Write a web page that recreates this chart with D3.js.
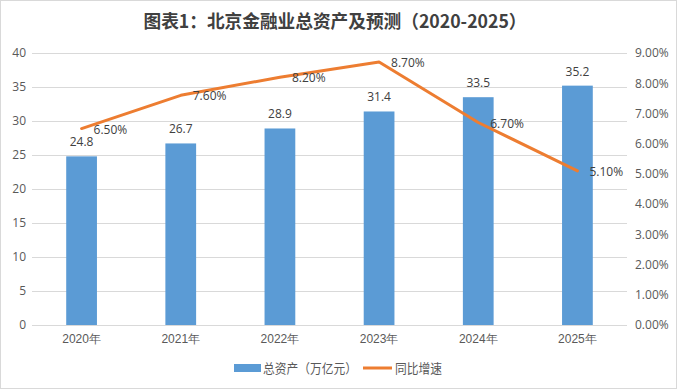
<!DOCTYPE html>
<html>
<head>
<meta charset="utf-8">
<script src="https://cdn.jsdelivr.net/npm/d3@7"></script>
<style>
  body { margin: 0; background: #fff; }
  svg { font-family: "Microsoft YaHei", "Noto Sans CJK SC", sans-serif; }
</style>
</head>
<body>
<div id="chart_div"></div>
<script>
//chart data
var years = ["2020年", "2021年", "2022年", "2023年", "2024年", "2025年"];
var assets = [24.8, 26.7, 28.9, 31.4, 33.5, 35.2];
var growth = [6.5, 7.6, 8.2, 8.7, 6.7, 5.1];
var leftTicks = [0, 5, 10, 15, 20, 25, 30, 35, 40];
var rightTicks = [0, 1, 2, 3, 4, 5, 6, 7, 8, 9];

var width = 677;
var height = 389;

var svg = d3.select("#chart_div").append("svg")
  .attr("width", width)
  .attr("height", height);

//outer frame
svg.append("rect")
  .attr("x", 0.5).attr("y", 0.5)
  .attr("width", width - 1).attr("height", height - 1)
  .attr("fill", "#fff")
  .attr("stroke", "#d9d9d9");

//title
svg.append("text")
  .attr("x", 335)
  .attr("y", 28)
  .attr("text-anchor", "middle")
  .style("font-size", "18px")
  .style("font-weight", "bold")
  .style("fill", "#404040")
  .attr("textLength", 383)
  .attr("lengthAdjust", "spacingAndGlyphs")
  .text("图表1：北京金融业总资产及预测（2020-2025）");

//scales
var x = d3.scaleBand().domain(years).range([32, 627]).paddingInner(0.69).paddingOuter(0.345);
var yLeft = d3.scaleLinear().domain([0, 40]).range([325, 53]);
var yRight = d3.scaleLinear().domain([0, 9]).range([325, 53]);

//gridlines
svg.append("g")
  .selectAll("line")
  .data(leftTicks)
  .join("line")
  .attr("x1", 32).attr("x2", 627)
  .attr("y1", d => Math.round(yLeft(d)) + 0.5)
  .attr("y2", d => Math.round(yLeft(d)) + 0.5)
  .attr("stroke", "#d9d9d9");

//left axis
var leftAxis = svg.append("g")
  .attr("transform", "translate(32,0)")
  .call(d3.axisLeft(yLeft).tickValues(leftTicks).tickSize(0).tickPadding(6));
leftAxis.select(".domain").remove();
leftAxis.selectAll("text").style("font-size", "12px").style("fill", "#595959").style("font-family", "'Open Sans', sans-serif");

//right axis
var rightAxis = svg.append("g")
  .attr("transform", "translate(627,0)")
  .call(d3.axisRight(yRight).tickValues(rightTicks).tickSize(0).tickPadding(8).tickFormat(d => d.toFixed(2) + "%"));
rightAxis.select(".domain").remove();
rightAxis.selectAll("text").style("font-size", "12px").style("fill", "#595959").style("font-family", "'Open Sans', sans-serif");

//bottom axis
var bottomAxis = svg.append("g")
  .attr("transform", "translate(0,325)")
  .call(d3.axisBottom(x).tickSize(0).tickPadding(9));
bottomAxis.select(".domain").remove();
bottomAxis.selectAll("text").style("font-size", "12px").style("fill", "#595959");

//bars
svg.append("g")
  .selectAll("rect")
  .data(assets)
  .join("rect")
  .attr("x", (d, i) => x(years[i]))
  .attr("y", d => yLeft(d))
  .attr("width", x.bandwidth())
  .attr("height", d => yLeft(0) - yLeft(d))
  .attr("fill", "#5b9bd5");

//bar labels
svg.append("g")
  .selectAll("text")
  .data(assets)
  .join("text")
  .attr("x", (d, i) => x(years[i]) + x.bandwidth() / 2)
  .attr("y", d => yLeft(d) - 10)
  .attr("text-anchor", "middle")
  .style("font-size", "12px")
  .style("fill", "#404040")
  .style("font-family", "'Open Sans', sans-serif")
  .text(d => d);

//growth line
var line = d3.line()
  .x((d, i) => x(years[i]) + x.bandwidth() / 2)
  .y(d => yRight(d));

svg.append("path")
  .datum(growth)
  .attr("d", line)
  .attr("fill", "none")
  .attr("stroke", "#ed7d31")
  .attr("stroke-width", 3)
  .attr("stroke-linejoin", "round")
  .attr("stroke-linecap", "round");

//line labels
svg.append("g")
  .selectAll("text")
  .data(growth)
  .join("text")
  .attr("x", (d, i) => x(years[i]) + x.bandwidth() / 2 + 12)
  .attr("y", d => yRight(d) + 5)
  .style("font-size", "12px")
  .style("fill", "#404040")
  .style("font-family", "'Open Sans', sans-serif")
  .text(d => d.toFixed(2) + "%");

//legend
var legend = svg.append("g");
legend.append("rect")
  .attr("x", 234).attr("y", 364)
  .attr("width", 27).attr("height", 8)
  .attr("fill", "#5b9bd5");
legend.append("text")
  .attr("x", 263).attr("y", 373)
  .style("font-size", "13px").style("fill", "#595959")
  .attr("textLength", 94)
  .attr("lengthAdjust", "spacingAndGlyphs")
  .text("总资产（万亿元）");
legend.append("line")
  .attr("x1", 363).attr("x2", 392)
  .attr("y1", 368).attr("y2", 368)
  .attr("stroke", "#ed7d31").attr("stroke-width", 3);
legend.append("text")
  .attr("x", 395).attr("y", 373)
  .style("font-size", "13px").style("fill", "#595959")
  .attr("textLength", 47)
  .attr("lengthAdjust", "spacingAndGlyphs")
  .text("同比增速");
</script>
</body>
</html>
